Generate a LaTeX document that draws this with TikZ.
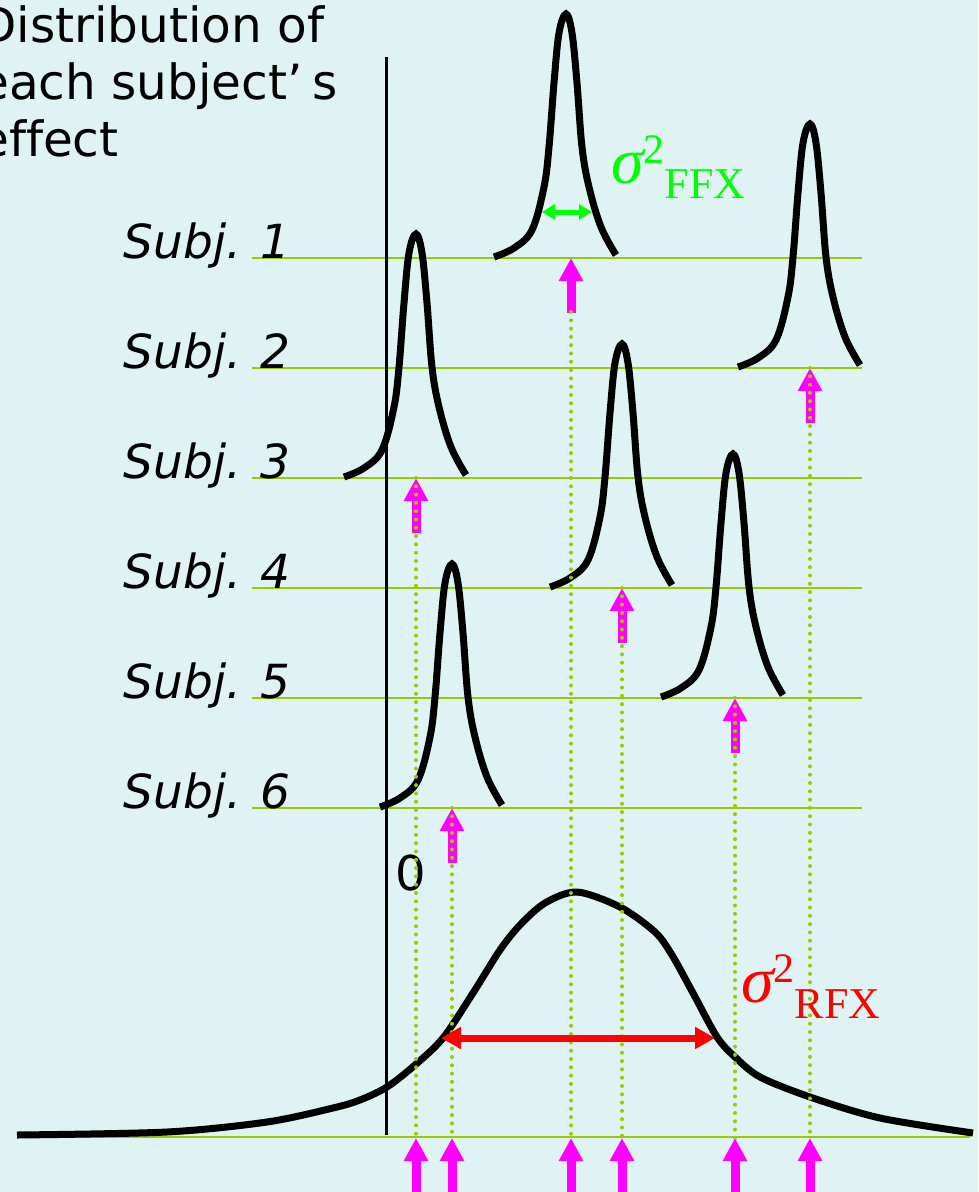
\documentclass[tikz,border=0pt]{standalone}
\usepackage{fontspec}
\setmainfont{DejaVu Sans}[Ligatures=NoCommon]
\newfontfamily\timesfont{Liberation Serif}
\usepackage{tikz}
\usetikzlibrary{arrows.meta}

\definecolor{bgcyan}{RGB}{223,242,244}
\definecolor{rowgreen}{RGB}{153,204,0}
\definecolor{fxmagenta}{RGB}{255,0,255}
\definecolor{ffxgreen}{RGB}{0,255,0}
\definecolor{rfxred}{RGB}{255,0,0}

\tikzset{
  rowline/.style={rowgreen, line width=2.5pt},
  peak/.style={black, line width=7pt},
  meanarrow/.style={fxmagenta, line width=9pt, -{Triangle[width=23pt,length=23pt]}},
  dotline/.style={rowgreen, line width=4pt, line cap=round, dash pattern=on 0pt off 8.3pt},
  subjlabel/.style={anchor=base east, inner sep=0pt, font=\fontsize{47}{56}\selectfont\itshape},
}

\begin{document}
\begin{tikzpicture}[x=1pt,y=-1pt]
		\useasboundingbox (0,0) rectangle (978,1192);
		\fill[bgcyan] (0,0) rectangle (978,1192);
		\clip (0,0) rectangle (978,1192);

		% Title
		\node[anchor=base west, align=left, inner sep=0pt, font=\fontsize{48.5}{57}\selectfont] (title) at (-21,156)
			{Distribution of\\each subject’\kern0.2em s\\effect};

		% Subject rows
		\foreach \i/\y in {1/258, 2/368, 3/478, 4/588, 5/698, 6/808} {
			\coordinate (row\i) at (252,\y);
			\coordinate (rowend\i) at (862,\y);
			\draw[rowline] (row\i) -- (rowend\i);
			\node[subjlabel] (subj\i) at (291,\y) {Subj. \i};
		}
		\coordinate (base) at (55,1137);
		\coordinate (baseend) at (970,1137);
		\draw[rowline] (base) -- (baseend);

		% Axis at zero
		\coordinate (axtop) at (386,57);
		\coordinate (axbot) at (386,1135);
		\draw[black, line width=3pt] (axtop) -- (axbot);
		\node[anchor=base, inner sep=0pt, font=\fontsize{48}{57}\selectfont] (zero) at (411,890) {0};

		% Each subject's distribution
		\foreach \i/\px/\mx/\y in {1/566/571/258, 2/810/810/368, 3/416/416/478, 4/622/622/588, 5/733/735/698, 6/452/452/808} {
			\draw[peak, shift={(\px,\y)}] plot [smooth, tension=0.6] coordinates
				{(-72,-1) (-52,-10) (-34,-28) (-22,-71) (-17,-111) (-12,-175) (-7,-225) (0,-244)
				 (6,-225) (11,-175) (16,-111) (23,-71) (35,-31) (50,-3)};
		}

		% Population distribution
		\draw[peak] plot [smooth, tension=0.5] coordinates {(17,1135) (167,1132) (267,1122) (333,1108) (360,1100)
			(387,1087) (415,1065) (443,1038) (473,993) (500,950) (520,925) (545,903) (577,892) (620,907) (655,932)
			(672,955) (693,993) (717,1037) (735,1057) (760,1077) (810,1097) (880,1118) (973,1133)};

		% Subject means
		\foreach \i/\mx/\y/\ds in {1/571/258/312, 2/810/368/368, 3/416/478/478, 4/622/588/588, 5/735/698/698, 6/452/808/808} {
			\coordinate (mean\i) at (\mx,\y);
			\coordinate (tail\i) at (\mx,\y+55);
			\coordinate (dots\i) at (\mx,\ds);
			\coordinate (foot\i) at (\mx,1138);
			\coordinate (below\i) at (\mx,1200);
			\draw[meanarrow] (tail\i) -- (mean\i);
			\draw[meanarrow] (below\i) -- (foot\i);
			\draw[dotline] (dots\i) -- (foot\i);
		}

		% Variances
		\coordinate (ffxl) at (542,212);
		\coordinate (ffxr) at (592,212);
		\draw[ffxgreen, line width=5pt, {Triangle[width=15pt,length=13pt]}-{Triangle[width=15pt,length=13pt]}] (ffxl) -- (ffxr);
		\coordinate (rfxl) at (441,1038);
		\coordinate (rfxr) at (715,1038);
		\draw[rfxred, line width=7pt, {Triangle[width=21pt,length=20pt]}-{Triangle[width=21pt,length=20pt]}] (rfxl) -- (rfxr);

		\node[anchor=base west, inner sep=0pt, text=ffxgreen] (ffx) at (611,183)
			{\timesfont\fontsize{66}{66}\selectfont\itshape σ\upshape\raisebox{20pt}{\fontsize{42}{42}\selectfont 2}\raisebox{-15pt}{\fontsize{44}{44}\selectfont FFX}};
		\node[anchor=base west, inner sep=0pt, text=rfxred] (rfx) at (741,1002)
			{\timesfont\fontsize{66}{66}\selectfont\itshape σ\upshape\raisebox{20pt}{\fontsize{42}{42}\selectfont 2}\raisebox{-16pt}{\fontsize{44}{44}\selectfont RFX}};
	\end{tikzpicture}
\end{document}
